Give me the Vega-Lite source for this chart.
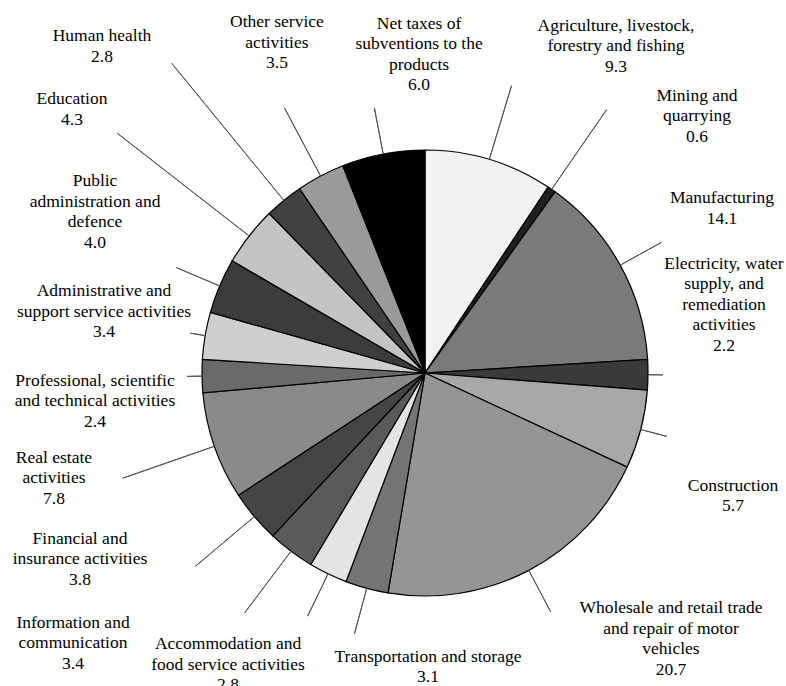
{
  "$schema": "https://vega.github.io/schema/vega-lite/v6.json",
  "width": 722,
  "height": 626,
  "autosize": {"type": "none"},
  "padding": {"left": 64, "top": 60, "right": 0, "bottom": 0},
  "background": "white",
  "config": {"view": {"stroke": null}, "font": "Liberation Serif, Times New Roman, serif", "text": {"font": "Liberation Serif, Times New Roman, serif"}},
  "data": {
    "values": [
      {"idx": 1, "category": "agri", "value": 9.3, "label": "Agriculture, livestock,\nforestry and fishing\n9.3"},
      {"idx": 2, "category": "mining", "value": 0.6, "label": "Mining and\nquarrying\n0.6"},
      {"idx": 3, "category": "manuf", "value": 14.1, "label": "Manufacturing\n14.1"},
      {"idx": 4, "category": "elec", "value": 2.2, "label": "Electricity, water\nsupply, and\nremediation\nactivities\n2.2"},
      {"idx": 5, "category": "constr", "value": 5.7, "label": "Construction\n5.7"},
      {"idx": 6, "category": "whole", "value": 20.7, "label": "Wholesale and retail trade\nand repair of motor\nvehicles\n20.7"},
      {"idx": 7, "category": "transp", "value": 3.1, "label": "Transportation and storage\n3.1"},
      {"idx": 8, "category": "accom", "value": 2.8, "label": "Accommodation and\nfood service activities\n2.8"},
      {"idx": 9, "category": "info", "value": 3.4, "label": "Information and\ncommunication\n3.4"},
      {"idx": 10, "category": "fin", "value": 3.8, "label": "Financial and\ninsurance activities\n3.8"},
      {"idx": 11, "category": "real", "value": 7.8, "label": "Real estate\nactivities\n7.8"},
      {"idx": 12, "category": "prof", "value": 2.4, "label": "Professional, scientific\nand technical activities\n2.4"},
      {"idx": 13, "category": "admin", "value": 3.4, "label": "Administrative and\nsupport service activities\n3.4"},
      {"idx": 14, "category": "public", "value": 4.0, "label": "Public\nadministration and\ndefence\n4.0"},
      {"idx": 15, "category": "educ", "value": 4.3, "label": "Education\n4.3"},
      {"idx": 16, "category": "human", "value": 2.8, "label": "Human health\n2.8"},
      {"idx": 17, "category": "other", "value": 3.5, "label": "Other service\nactivities\n3.5"},
      {"idx": 18, "category": "net", "value": 6.0, "label": "Net taxes of\nsubventions to the\nproducts\n6.0"}
    ]
  },
  "encoding": {
    "theta": {"field": "value", "type": "quantitative", "stack": true},
    "order": {"field": "idx", "type": "quantitative"}
  },
  "layer": [
    {
      "mark": {"type": "arc", "outerRadius": 223, "stroke": "#000000", "strokeWidth": 1.2},
      "encoding": {
        "color": {
          "field": "category", "type": "nominal", "legend": null,
          "scale": {
            "domain": ["agri","mining","manuf","elec","constr","whole","transp","accom","info","fin","real","prof","admin","public","educ","human","other","net"],
            "range": ["#f2f2f2","#202020","#7a7a7a","#3a3a3a","#a8a8a8","#959595","#747474","#e4e4e4","#5a5a5a","#454545","#8a8a8a","#6a6a6a","#cfcfcf","#3c3c3c","#c4c4c4","#404040","#9a9a9a","#000000"]
          }
        }
      }
    },
    {
      "mark": {"type": "arc", "innerRadius": 223, "outerRadius": 238, "padAngle": 3, "fill": "transparent", "fillOpacity": 0, "stroke": "#555555", "strokeWidth": 1},
      "encoding": {"detail": {"field": "category", "type": "nominal"}, "strokeOpacity": {"condition": {"test": "indexof(['admin','elec','prof'], datum.category) >= 0", "value": 1}, "value": 0}}
    },
    {
      "mark": {"type": "arc", "innerRadius": 223, "outerRadius": 250, "padAngle": 3, "fill": "transparent", "fillOpacity": 0, "stroke": "#555555", "strokeWidth": 1},
      "encoding": {"detail": {"field": "category", "type": "nominal"}, "strokeOpacity": {"condition": {"test": "indexof(['constr'], datum.category) >= 0", "value": 1}, "value": 0}}
    },
    {
      "mark": {"type": "arc", "innerRadius": 223, "outerRadius": 270, "padAngle": 3, "fill": "transparent", "fillOpacity": 0, "stroke": "#555555", "strokeWidth": 1},
      "encoding": {"detail": {"field": "category", "type": "nominal"}, "strokeOpacity": {"condition": {"test": "indexof(['whole','accom','public','net','manuf','transp'], datum.category) >= 0", "value": 1}, "value": 0}}
    },
    {
      "mark": {"type": "arc", "innerRadius": 223, "outerRadius": 300, "padAngle": 3, "fill": "transparent", "fillOpacity": 0, "stroke": "#555555", "strokeWidth": 1},
      "encoding": {"detail": {"field": "category", "type": "nominal"}, "strokeOpacity": {"condition": {"test": "indexof(['agri','info','fin','other'], datum.category) >= 0", "value": 1}, "value": 0}}
    },
    {
      "mark": {"type": "arc", "innerRadius": 223, "outerRadius": 320, "padAngle": 3, "fill": "transparent", "fillOpacity": 0, "stroke": "#555555", "strokeWidth": 1},
      "encoding": {"detail": {"field": "category", "type": "nominal"}, "strokeOpacity": {"condition": {"test": "indexof(['mining','real'], datum.category) >= 0", "value": 1}, "value": 0}}
    },
    {
      "mark": {"type": "arc", "innerRadius": 223, "outerRadius": 390, "padAngle": 3, "fill": "transparent", "fillOpacity": 0, "stroke": "#555555", "strokeWidth": 1},
      "encoding": {"detail": {"field": "category", "type": "nominal"}, "strokeOpacity": {"condition": {"test": "indexof(['educ'], datum.category) >= 0", "value": 1}, "value": 0}}
    },
    {
      "mark": {"type": "arc", "innerRadius": 223, "outerRadius": 400, "padAngle": 3, "fill": "transparent", "fillOpacity": 0, "stroke": "#555555", "strokeWidth": 1},
      "encoding": {"detail": {"field": "category", "type": "nominal"}, "strokeOpacity": {"condition": {"test": "indexof(['human'], datum.category) >= 0", "value": 1}, "value": 0}}
    },
    {"mark": {"type": "text", "radius": 300, "dx": 104.5, "dy": -68.8, "align": "center", "baseline": "top", "lineBreak": "\n", "font": "Liberation Serif, Times New Roman, serif", "fontSize": 17.5, "lineHeight": 20.5, "color": "#000000"},
     "encoding": {"detail": {"field": "category", "type": "nominal"}, "text": {"condition": {"test": "datum.category === 'agri'", "field": "label", "type": "nominal"}, "value": ""}}},
    {"mark": {"type": "text", "radius": 320, "dx": 90.3, "dy": -22.6, "align": "center", "baseline": "top", "lineBreak": "\n", "font": "Liberation Serif, Times New Roman, serif", "fontSize": 17.5, "lineHeight": 20.5, "color": "#000000"},
     "encoding": {"detail": {"field": "category", "type": "nominal"}, "text": {"condition": {"test": "datum.category === 'mining'", "field": "label", "type": "nominal"}, "value": ""}}},
    {"mark": {"type": "text", "radius": 275, "dx": 56.3, "dy": -51, "align": "center", "baseline": "top", "lineBreak": "\n", "font": "Liberation Serif, Times New Roman, serif", "fontSize": 17.5, "lineHeight": 20.5, "color": "#000000"},
     "encoding": {"detail": {"field": "category", "type": "nominal"}, "text": {"condition": {"test": "datum.category === 'manuf'", "field": "label", "type": "nominal"}, "value": ""}}},
    {"mark": {"type": "text", "radius": 238, "dx": 61, "dy": -119.9, "align": "center", "baseline": "top", "lineBreak": "\n", "font": "Liberation Serif, Times New Roman, serif", "fontSize": 17.5, "lineHeight": 20.5, "color": "#000000"},
     "encoding": {"detail": {"field": "category", "type": "nominal"}, "text": {"condition": {"test": "datum.category === 'elec'", "field": "label", "type": "nominal"}, "value": ""}}},
    {"mark": {"type": "text", "radius": 250, "dx": 66.2, "dy": 40.6, "align": "center", "baseline": "top", "lineBreak": "\n", "font": "Liberation Serif, Times New Roman, serif", "fontSize": 17.5, "lineHeight": 20.5, "color": "#000000"},
     "encoding": {"detail": {"field": "category", "type": "nominal"}, "text": {"condition": {"test": "datum.category === 'constr'", "field": "label", "type": "nominal"}, "value": ""}}},
    {"mark": {"type": "text", "radius": 265, "dx": 122.6, "dy": -8.5, "align": "center", "baseline": "top", "lineBreak": "\n", "font": "Liberation Serif, Times New Roman, serif", "fontSize": 17.5, "lineHeight": 20.5, "color": "#000000"},
     "encoding": {"detail": {"field": "category", "type": "nominal"}, "text": {"condition": {"test": "datum.category === 'whole'", "field": "label", "type": "nominal"}, "value": ""}}},
    {"mark": {"type": "text", "radius": 280, "dx": 76.1, "dy": 4.5, "align": "center", "baseline": "top", "lineBreak": "\n", "font": "Liberation Serif, Times New Roman, serif", "fontSize": 17.5, "lineHeight": 20.5, "color": "#000000"},
     "encoding": {"detail": {"field": "category", "type": "nominal"}, "text": {"condition": {"test": "datum.category === 'transp'", "field": "label", "type": "nominal"}, "value": ""}}},
    {"mark": {"type": "text", "radius": 270, "dx": -79.6, "dy": 18.9, "align": "center", "baseline": "top", "lineBreak": "\n", "font": "Liberation Serif, Times New Roman, serif", "fontSize": 17.5, "lineHeight": 20.5, "color": "#000000"},
     "encoding": {"detail": {"field": "category", "type": "nominal"}, "text": {"condition": {"test": "datum.category === 'accom'", "field": "label", "type": "nominal"}, "value": ""}}},
    {"mark": {"type": "text", "radius": 300, "dx": -171.7, "dy": 1.2, "align": "center", "baseline": "top", "lineBreak": "\n", "font": "Liberation Serif, Times New Roman, serif", "fontSize": 17.5, "lineHeight": 20.5, "color": "#000000"},
     "encoding": {"detail": {"field": "category", "type": "nominal"}, "text": {"condition": {"test": "datum.category === 'info'", "field": "label", "type": "nominal"}, "value": ""}}},
    {"mark": {"type": "text", "radius": 300, "dx": -115.5, "dy": -36.2, "align": "center", "baseline": "top", "lineBreak": "\n", "font": "Liberation Serif, Times New Roman, serif", "fontSize": 17.5, "lineHeight": 20.5, "color": "#000000"},
     "encoding": {"detail": {"field": "category", "type": "nominal"}, "text": {"condition": {"test": "datum.category === 'fin'", "field": "label", "type": "nominal"}, "value": ""}}},
    {"mark": {"type": "text", "radius": 320, "dx": -68.8, "dy": -29.2, "align": "center", "baseline": "top", "lineBreak": "\n", "font": "Liberation Serif, Times New Roman, serif", "fontSize": 17.5, "lineHeight": 20.5, "color": "#000000"},
     "encoding": {"detail": {"field": "category", "type": "nominal"}, "text": {"condition": {"test": "datum.category === 'real'", "field": "label", "type": "nominal"}, "value": ""}}},
    {"mark": {"type": "text", "radius": 240, "dx": -90, "dy": -4.4, "align": "center", "baseline": "top", "lineBreak": "\n", "font": "Liberation Serif, Times New Roman, serif", "fontSize": 17.5, "lineHeight": 20.5, "color": "#000000"},
     "encoding": {"detail": {"field": "category", "type": "nominal"}, "text": {"condition": {"test": "datum.category === 'prof'", "field": "label", "type": "nominal"}, "value": ""}}},
    {"mark": {"type": "text", "radius": 232, "dx": -92.3, "dy": -52.1, "align": "center", "baseline": "top", "lineBreak": "\n", "font": "Liberation Serif, Times New Roman, serif", "fontSize": 17.5, "lineHeight": 20.5, "color": "#000000"},
     "encoding": {"detail": {"field": "category", "type": "nominal"}, "text": {"condition": {"test": "datum.category === 'admin'", "field": "label", "type": "nominal"}, "value": ""}}},
    {"mark": {"type": "text", "radius": 270, "dx": -81.4, "dy": -95.6, "align": "center", "baseline": "top", "lineBreak": "\n", "font": "Liberation Serif, Times New Roman, serif", "fontSize": 17.5, "lineHeight": 20.5, "color": "#000000"},
     "encoding": {"detail": {"field": "category", "type": "nominal"}, "text": {"condition": {"test": "datum.category === 'public'", "field": "label", "type": "nominal"}, "value": ""}}},
    {"mark": {"type": "text", "radius": 390, "dx": -45.4, "dy": -43.2, "align": "center", "baseline": "top", "lineBreak": "\n", "font": "Liberation Serif, Times New Roman, serif", "fontSize": 17.5, "lineHeight": 20.5, "color": "#000000"},
     "encoding": {"detail": {"field": "category", "type": "nominal"}, "text": {"condition": {"test": "datum.category === 'educ'", "field": "label", "type": "nominal"}, "value": ""}}},
    {"mark": {"type": "text", "radius": 400, "dx": -69.8, "dy": -36.3, "align": "center", "baseline": "top", "lineBreak": "\n", "font": "Liberation Serif, Times New Roman, serif", "fontSize": 17.5, "lineHeight": 20.5, "color": "#000000"},
     "encoding": {"detail": {"field": "category", "type": "nominal"}, "text": {"condition": {"test": "datum.category === 'human'", "field": "label", "type": "nominal"}, "value": ""}}},
    {"mark": {"type": "text", "radius": 305, "dx": -5.2, "dy": -90.5, "align": "center", "baseline": "top", "lineBreak": "\n", "font": "Liberation Serif, Times New Roman, serif", "fontSize": 17.5, "lineHeight": 20.5, "color": "#000000"},
     "encoding": {"detail": {"field": "category", "type": "nominal"}, "text": {"condition": {"test": "datum.category === 'other'", "field": "label", "type": "nominal"}, "value": ""}}},
    {"mark": {"type": "text", "radius": 270, "dx": 44.7, "dy": -92.8, "align": "center", "baseline": "top", "lineBreak": "\n", "font": "Liberation Serif, Times New Roman, serif", "fontSize": 17.5, "lineHeight": 20.5, "color": "#000000"},
     "encoding": {"detail": {"field": "category", "type": "nominal"}, "text": {"condition": {"test": "datum.category === 'net'", "field": "label", "type": "nominal"}, "value": ""}}}
  ]
}
